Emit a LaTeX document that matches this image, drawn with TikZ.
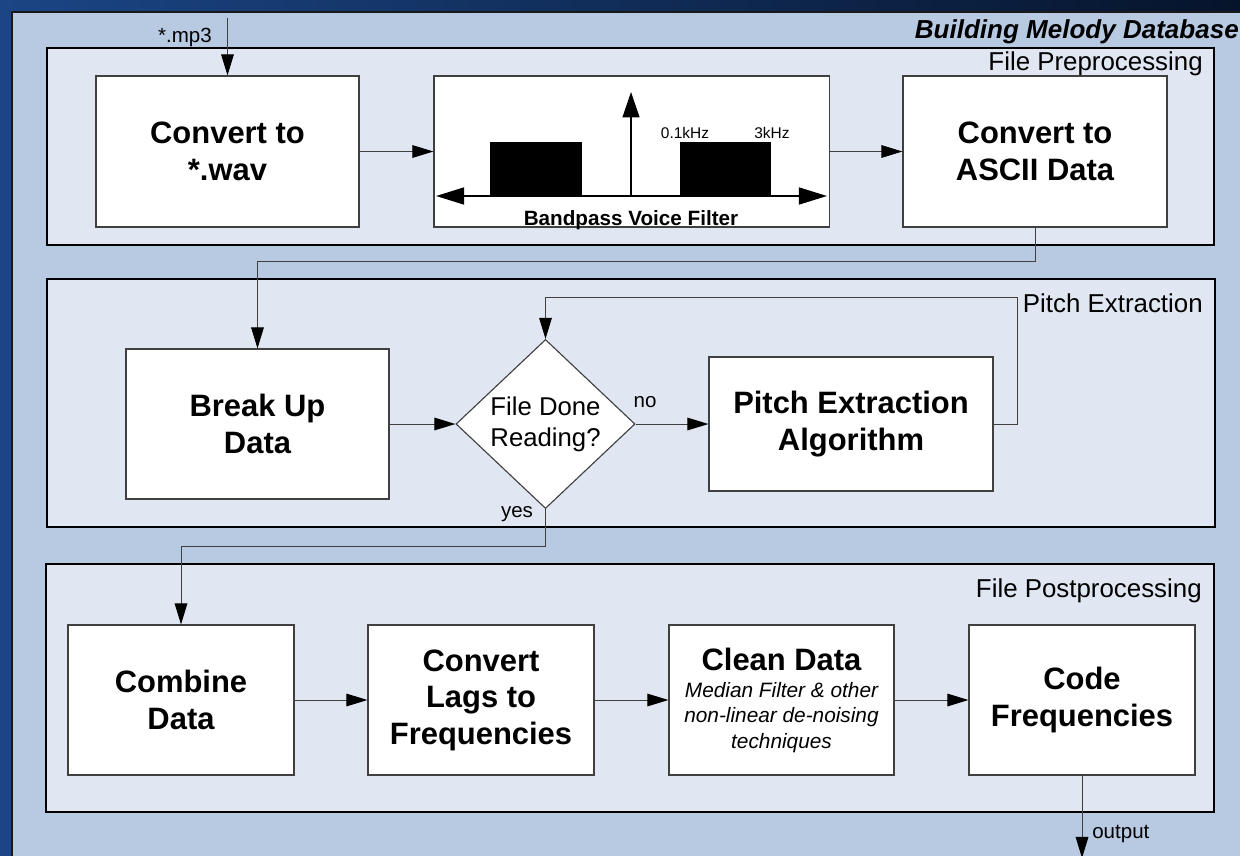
\documentclass[tikz,border=0pt]{standalone}
\usepackage{fontspec}
\setmainfont{Liberation Sans}
\usetikzlibrary{arrows.meta,shapes.geometric}

\definecolor{bgdark}{HTML}{06142B}
\definecolor{bglight}{HTML}{1B4585}
\definecolor{outerblue}{HTML}{B8C9E2}
\definecolor{innerblue}{HTML}{E0E7F2}
\definecolor{linegray}{HTML}{404040}

\newcommand{\stagefont}{\fontsize{22}{26}\selectfont\bfseries}

\begin{document}
\begin{tikzpicture}[x=0.025cm, y=-0.025cm,
        stage/.style={draw=linegray, fill=white, line width=0.8pt,
            align=center, inner sep=0pt, font=\stagefont},
        panel/.style={draw=black, fill=innerblue, line width=0.8pt},
        flow/.style={draw=linegray, line width=0.7pt,
            -{Triangle[length=15pt,width=9pt,color=black]}},
        paneltext/.style={font=\fontsize{18.4}{22}\selectfont,
            inner sep=0pt, anchor=base east},
        smalltext/.style={font=\fontsize{14.6}{17.8}\selectfont,
            inner sep=0pt}]

        \useasboundingbox (0,0) rectangle (1240,855);
        \clip (0,0) rectangle (1240,855);

        % backdrop and outer frame
        \shade[left color=bglight, right color=bgdark] (0,0) rectangle (1240,855);
        \draw[line width=1.6pt, draw=black!90, fill=outerblue] (12,12) rectangle (1260,880);
        \node[font=\fontsize{18.5}{22}\selectfont\bfseries\itshape,
            inner sep=0pt, anchor=base east] (title) at (1239,38) {Building Melody Database};

        % the three stages
        \draw[panel] (47,48) rectangle (1214,245);
        \draw[panel] (47,279) rectangle (1215,527);
        \draw[panel] (46,564) rectangle (1214,812);
        \node[paneltext] (prelabel) at (1203,70) {File Preprocessing};
        \node[paneltext] (pitchlabel) at (1203,312) {Pitch Extraction};
        \node[paneltext] (postlabel) at (1202,597) {File Postprocessing};

        % wav
        \node [stage,
            minimum width=6.575cm,
            minimum height=3.775cm,
        ] (wav) at (227.5,151.5) {Convert to\\{}*.wav};

        % filter
        \node [stage,
            minimum width=9.875cm,
            minimum height=3.775cm,
        ] (filter) at (631.5,151.5) {};
        \fill (490,142) rectangle (582,196);
        \fill (680,142) rectangle (771,196);
        \draw[line width=1.5pt,
            {Triangle[length=20pt,width=12pt]}-{Triangle[length=20pt,width=12pt]}]
            (436,196) -- (827,196);
        \draw[line width=1pt, -{Triangle[length=18pt,width=12pt]}] (631,196) -- (631,92);
        \node[font=\fontsize{11}{13}\selectfont, inner sep=0pt, anchor=base]
            (lowcut) at (685,138) {0.1kHz};
        \node[font=\fontsize{11}{13}\selectfont, inner sep=0pt, anchor=base]
            (highcut) at (772,138) {3kHz};
        \node[font=\fontsize{14.7}{17}\selectfont\bfseries, inner sep=0pt, anchor=base]
            (filtername) at (631,225) {Bandpass Voice Filter};

        % ascii
        \node [stage,
            minimum width=6.6cm,
            minimum height=3.775cm,
        ] (ascii) at (1035,151.5) {Convert to\\ASCII Data};

        % break up
        \node [stage,
            minimum width=6.575cm,
            minimum height=3.75cm,
        ] (breakup) at (257.5,424) {Break Up\\Data};

        % decision
        \node [diamond, draw=linegray, fill=white, line width=0.8pt,
            align=center, inner sep=0pt, aspect=1.06,
            minimum width=4.475cm,
            minimum height=4.225cm,
            font=\fontsize{18.3}{22}\selectfont,
        ] (done) at (545.5,424) {File Done\\Reading?};

        % pitch
        \node [stage,
            minimum width=7.1cm,
            minimum height=3.35cm,
        ] (pitch) at (851,424) {Pitch Extraction\\Algorithm};

        % combine
        \node [stage,
            minimum width=5.65cm,
            minimum height=3.75cm,
        ] (combine) at (181,700) {Combine\\Data};

        % lags
        \node [stage,
            minimum width=5.65cm,
            minimum height=3.75cm,
        ] (lags) at (481,700) {Convert\\Lags to\\Frequencies};

        % clean
        \node [stage,
            minimum width=5.625cm,
            minimum height=3.75cm,
            font=\fontsize{14.8}{17.8}\selectfont\itshape,
        ] (clean) at (781.5,700) {\stagefont\upshape Clean Data\\[2pt]
            Median Filter \& other\\non-linear de-noising\\techniques};

        % code
        \node [stage,
            minimum width=5.65cm,
            minimum height=3.75cm,
        ] (code) at (1082,700) {Code\\Frequencies};

        \coordinate (mp3in) at (227.5,18);
        \coordinate (loop) at (1017,297);
        \coordinate (out) at (1082,858);

        \draw[flow] (mp3in) -- (wav.north);
        \node[smalltext, anchor=base east] (mp3) at (212,42) {*.mp3};
        \draw[flow] (wav.east) -- (filter.west);
        \draw[flow] (filter.east) -- (ascii.west);
        \draw[flow] (ascii.south) -- ++(0,34) -| (breakup.north);
        \draw[flow] (breakup.east) -- (done.west);
        \draw[flow] (done.east) -- (pitch.west);
        \node[smalltext, anchor=base] (no) at (645,407) {no};
        \draw[flow] (pitch.east) -| (loop) -| (done.north);
        \draw[flow] (done.south) -- ++(0,37) -| (combine.north);
        \node[smalltext, anchor=base] (yes) at (517,517) {yes};
        \draw[flow] (combine.east) -- (lags.west);
        \draw[flow] (lags.east) -- (clean.west);
        \draw[flow] (clean.east) -- (code.west);
        \draw[flow] (code.south) -- (out);
        \node[smalltext, anchor=base west] (output) at (1092,838) {output};
        \end{tikzpicture}
\end{document}
